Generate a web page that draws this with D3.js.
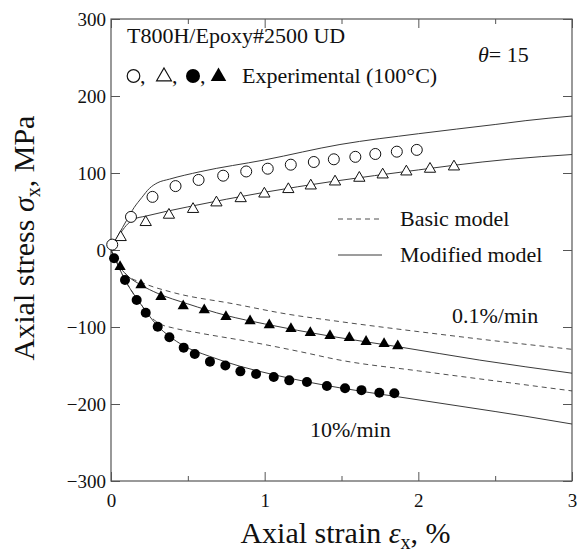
<!DOCTYPE html>
<html><head><meta charset="utf-8">
<script src="https://cdn.jsdelivr.net/npm/d3@7"></script>
<style>body{margin:0;background:#fff}svg{display:block}text{font-family:"Liberation Serif","Times New Roman",serif;fill:#111}</style>
</head><body><div id="chart"></div>
<script>
// ---- data ----
const xTicks = [0, 1, 2, 3];
const xMinorTicks = [0.5, 1.5, 2.5];
const yTicks = [-300, -200, -100, 0, 100, 200, 300];

// Experimental, open circles
const openCircleX = [0.008,0.13,0.27,0.42,0.57,0.73,0.88,1.02,1.17,1.32,1.45,1.59,1.72,1.86,1.99];
const openCircleY = [7,43,69,83,91,96.5,102,105.6,110.8,114.3,117.8,121,124.7,127.7,130];
// Experimental, open triangles
const openTriX = [0.063,0.226,0.377,0.534,0.686,0.844,0.998,1.154,1.30,1.458,1.616,1.768,1.922,2.076,2.232];
const openTriY = [16.5,36,45.5,53,61.5,67,73,78.8,83.5,88.7,93.5,97.8,101.7,105.2,108.2];
// Experimental, filled circles
const fillCircleX = [0.02,0.091,0.167,0.226,0.304,0.38,0.473,0.545,0.644,0.744,0.842,0.944,1.059,1.16,1.275,1.405,1.523,1.63,1.746,1.844];
const fillCircleY = [-10.8,-39,-65,-81.4,-99.6,-113.4,-126.8,-135,-145,-150,-157.6,-161,-165,-169.3,-171.4,-176.6,-179.6,-182,-185.3,-186];
// Experimental, filled triangles
const fillTriX = [0.059,0.195,0.325,0.47,0.607,0.748,0.905,1.03,1.171,1.297,1.425,1.551,1.66,1.777,1.866];
const fillTriY = [-21.6,-45.5,-60.6,-72.7,-78,-86.6,-92.2,-97.4,-102.2,-107.4,-111.3,-113.9,-119,-121.7,-124.7];

// Modified model (solid)
const modTenAX = [0,0.05,0.1,0.15,0.2,0.25,0.3,0.38,0.58,1.0,1.49,2.0,2.5,2.7,3.0];
const modTenAY = [0,20,38,55,68,80,87,92,101.7,117,137,151,163,168,174];
const modTenBX = [0,0.05,0.1,0.15,0.226,0.5,1.0,1.43,2.0,2.23,2.6,3.0];
const modTenBY = [0,18,32,40,44,56,75,88.7,104,110,118,124];
const modComSlowX = [0,0.05,0.1,0.2,0.3,0.5,0.75,1.0,1.43,1.88,2.4,3.0];
const modComSlowY = [0,-20,-32,-46,-56,-70,-85,-96,-112,-126,-143,-160];
const modComFastX = [0,0.05,0.1,0.15,0.2,0.3,0.38,0.47,0.64,0.84,1.06,1.27,1.49,1.88,2.31,2.7,3.0];
const modComFastY = [0,-22,-42,-58,-72,-98,-112,-124,-138,-151,-162,-171,-179,-191,-204,-216,-226];
// Basic model (dashed)
const basComSlowX = [0,0.05,0.1,0.21,0.4,0.8,1.14,1.49,2.0,2.5,3.0];
const basComSlowY = [0,-20,-32,-43,-55,-70,-83,-93,-106,-118,-129];
const basComFastX = [0,0.05,0.1,0.15,0.2,0.27,0.33,0.4,0.58,0.9,1.23,1.49,2.0,2.5,3.0];
const basComFastY = [0,-22,-42,-58,-72,-89,-97,-101,-108,-119,-132,-143,-157,-170,-183];

// ---- layout ----
const W = 578, H = 552;
const m = {left: 111, top: 19, right: 6, bottom: 71};
const iw = W - m.left - m.right, ih = H - m.top - m.bottom;

const svg = d3.select("#chart").append("svg").attr("width", W).attr("height", H);
const g = svg.append("g").attr("transform", `translate(${m.left},${m.top})`);

const x = d3.scaleLinear().domain([0, 3]).range([0, iw]);
const y = d3.scaleLinear().domain([-300, 300]).range([ih, 0]);

const frameColor = "#555", lineColor = "#3a3a3a";

// axes
function styleAxis(sel) {
  sel.select(".domain").remove();
  sel.selectAll(".tick line").attr("stroke", frameColor).attr("stroke-width", 1);
  sel.selectAll("text").style("font-family", '"Liberation Serif",serif').style("font-size", "19px").attr("fill", "#111");
}
g.append("g").attr("transform", `translate(0,${ih})`)
  .call(d3.axisBottom(x).tickValues(xTicks).tickFormat(d3.format("d")).tickSize(-9).tickPadding(13)).call(styleAxis);
g.append("g").attr("transform", `translate(0,${ih})`)
  .call(d3.axisBottom(x).tickValues(xMinorTicks).tickFormat("").tickSize(-5)).call(styleAxis);
g.append("g")
  .call(d3.axisTop(x).tickValues(xTicks).tickFormat("").tickSize(-9)).call(styleAxis);
g.append("g")
  .call(d3.axisTop(x).tickValues(xMinorTicks).tickFormat("").tickSize(-5)).call(styleAxis);
g.append("g")
  .call(d3.axisLeft(y).tickValues(yTicks).tickFormat(d3.format("d")).tickSize(-9).tickPadding(5)).call(styleAxis);
g.append("g").attr("transform", `translate(${iw},0)`)
  .call(d3.axisRight(y).tickValues(yTicks).tickFormat("").tickSize(-9)).call(styleAxis);

g.append("rect").attr("width", iw).attr("height", ih).attr("fill", "none")
  .attr("stroke", frameColor).attr("stroke-width", 1.2);

// lines
const line = d3.line().x(d => x(d[0])).y(d => y(d[1])).curve(d3.curveMonotoneX);
const zip = (a, b) => a.map((v, i) => [v, b[i]]);
g.append("clipPath").attr("id", "clip").append("rect").attr("width", iw).attr("height", ih);
const lg = g.append("g").attr("clip-path", "url(#clip)");
[[basComSlowX, basComSlowY], [basComFastX, basComFastY]].forEach(([a, b]) => {
  lg.append("path").attr("d", line(zip(a, b))).attr("fill", "none")
    .attr("stroke", lineColor).attr("stroke-width", 0.9).attr("stroke-dasharray", "5,4");
});
[[modTenAX, modTenAY], [modTenBX, modTenBY], [modComSlowX, modComSlowY], [modComFastX, modComFastY]].forEach(([a, b]) => {
  lg.append("path").attr("d", line(zip(a, b))).attr("fill", "none")
    .attr("stroke", lineColor).attr("stroke-width", 1);
});

// markers
const tri = d3.symbol().type(d3.symbolTriangle).size(55);
g.selectAll(".oc").data(zip(openCircleX, openCircleY)).join("circle")
  .attr("cx", d => x(d[0])).attr("cy", d => y(d[1])).attr("r", 5.5)
  .attr("fill", "#fff").attr("stroke", "#111").attr("stroke-width", 1);
g.selectAll(".ot").data(zip(openTriX, openTriY)).join("path")
  .attr("d", tri).attr("transform", d => `translate(${x(d[0])},${y(d[1])})`)
  .attr("fill", "#fff").attr("stroke", "#111").attr("stroke-width", 1);
g.selectAll(".fc").data(zip(fillCircleX, fillCircleY)).join("circle")
  .attr("cx", d => x(d[0])).attr("cy", d => y(d[1])).attr("r", 5)
  .attr("fill", "#000");
g.selectAll(".ft").data(zip(fillTriX, fillTriY)).join("path")
  .attr("d", tri).attr("transform", d => `translate(${x(d[0])},${y(d[1])})`)
  .attr("fill", "#000");

// texts
const T = (px, py, s, size, anchor) => svg.append("text").attr("x", px).attr("y", py)
  .attr("font-size", size).attr("text-anchor", anchor || "start").text(s);
T(127, 43, "T800H/Epoxy#2500 UD", 22);
// legend markers line
const legY = 76;
svg.append("circle").attr("cx", 133.5).attr("cy", legY).attr("r", 6.3).attr("fill", "#fff").attr("stroke", "#111").attr("stroke-width", 1.2);
T(140, 83, ",", 22);
svg.append("path").attr("d", d3.symbol().type(d3.symbolTriangle).size(95)).attr("transform", `translate(164,${legY+0.5})`).attr("fill", "#fff").attr("stroke", "#111").attr("stroke-width", 1.2);
T(172, 83, ",", 22);
svg.append("circle").attr("cx", 193).attr("cy", legY).attr("r", 7).attr("fill", "#000");
T(200, 83, ",", 22);
svg.append("path").attr("d", d3.symbol().type(d3.symbolTriangle).size(105)).attr("transform", `translate(218.5,${legY+0.5})`).attr("fill", "#000");
T(242, 83, "Experimental (100°C)", 22);

const th = svg.append("text").attr("x", 478).attr("y", 62).attr("font-size", 22);
th.append("tspan").attr("font-style", "italic").text("θ");
th.append("tspan").text("= 15");

// model legend
svg.append("line").attr("x1", 338).attr("x2", 382).attr("y1", 219).attr("y2", 219)
  .attr("stroke", lineColor).attr("stroke-width", 0.9).attr("stroke-dasharray", "5,4");
T(400, 226, "Basic model", 22);
svg.append("line").attr("x1", 338).attr("x2", 382).attr("y1", 255).attr("y2", 255)
  .attr("stroke", lineColor).attr("stroke-width", 1);
T(400, 262, "Modified model", 22);

T(452, 323, "0.1%/min", 22);
T(310, 437, "10%/min", 22);

// axis titles
const xt = svg.append("text").attr("x", m.left + iw / 2 + 4).attr("y", 543).attr("text-anchor", "middle").attr("font-size", 30);
xt.append("tspan").text("Axial strain ");
xt.append("tspan").attr("font-style", "italic").text("ε");
xt.append("tspan").attr("font-size", 20).attr("dy", 6).text("x");
xt.append("tspan").attr("dy", -6).text(", %");

const yt = svg.append("text").attr("transform", `translate(34,${m.top + ih / 2 - 12}) rotate(-90)`)
  .attr("text-anchor", "middle").attr("font-size", 30);
yt.append("tspan").text("Axial stress ");
yt.append("tspan").attr("font-style", "italic").text("σ");
yt.append("tspan").attr("font-size", 20).attr("dy", 6).text("x");
yt.append("tspan").attr("dy", -6).text(", MPa");
</script></body></html>
